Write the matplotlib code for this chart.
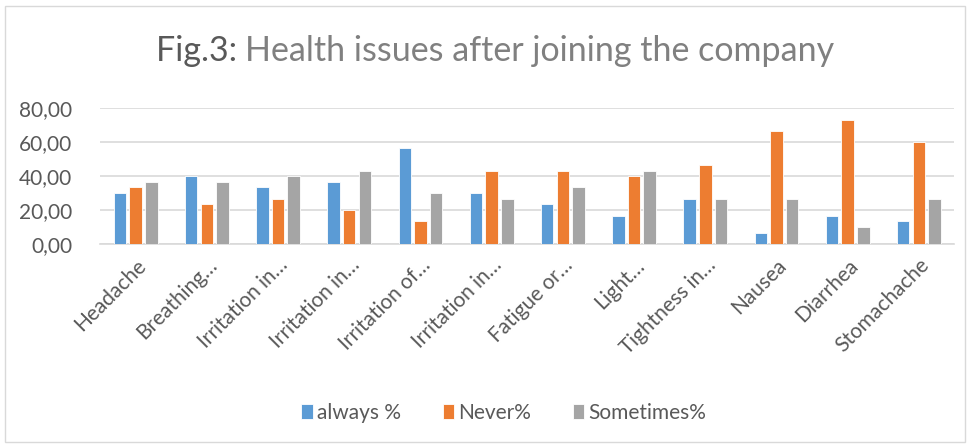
import matplotlib
matplotlib.use('Agg')
import matplotlib.pyplot as plt
import numpy as np
from matplotlib.patches import Rectangle

plt.rcParams['font.family'] = ['Lato', 'DejaVu Sans']

# data
categories = ['Headache', 'Breathing…', 'Irritation in…', 'Irritation in…',
              'Irritation of…', 'Irritation in…', 'Fatigue or…', 'Light…',
              'Tightness in…', 'Nausea', 'Diarrhea', 'Stomachache']
always = [30.0, 40.0, 33.3, 36.7, 56.7, 30.0, 23.3, 16.7, 26.7, 6.7, 16.7, 13.3]
never = [33.3, 23.3, 26.7, 20.0, 13.3, 43.3, 43.3, 40.0, 46.7, 66.7, 73.3, 60.0]
sometimes = [36.7, 36.7, 40.0, 43.3, 30.0, 26.7, 33.3, 43.3, 26.7, 26.7, 10.0, 26.7]
series_names = ['always %', 'Never%', 'Sometimes%']
colors = ['#5b9bd5', '#ed7d31', '#a5a5a5']

fig = plt.figure(figsize=(9.71, 4.47), dpi=100)
ax = fig.add_axes([0.103, 0.454, 0.880, 0.304])

x = np.arange(len(categories))
w = 0.175
step = 0.22
for i, (vals, name) in enumerate(zip([always, never, sometimes], series_names)):
    ax.bar(x + (i - 1) * step, vals, w, color=colors[i], label=name,
           edgecolor='white', linewidth=0.6, zorder=3)

ax.set_xlim(-0.5, len(categories) - 0.5)
ax.set_ylim(0, 80)
ax.set_yticks(np.arange(0, 81, 20))
ax.set_yticklabels(['%d,00' % v for v in range(0, 81, 20)])
ax.yaxis.grid(True, color='#d9d9d9', linewidth=1.2, zorder=0)
ax.tick_params(axis='y', length=0, labelsize=15, labelcolor='#595959', pad=20)
ax.tick_params(axis='x', length=0, labelsize=15, labelcolor='#595959', pad=8)
ax.set_xticks(x)
ax.set_xticklabels(categories, rotation=45, ha='right', rotation_mode='anchor')
for s in ['top', 'right', 'left']:
    ax.spines[s].set_visible(False)
ax.spines['bottom'].set_color('#d9d9d9')
ax.spines['bottom'].set_linewidth(1.2)

# title in two colours
fig.canvas.draw()
r = fig.canvas.get_renderer()
t1 = fig.text(0, 0.885, 'Fig.3: ', fontsize=24.5, color='#595959', va='center')
t2 = fig.text(0, 0.885, 'Health issues after joining the company', fontsize=24.5,
              color='#808080', va='center')
w1 = t1.get_window_extent(r).width
w2 = t2.get_window_extent(r).width
x0 = 495 - (w1 + w2) / 2
t1.set_x(x0 / 971)
t2.set_x((x0 + w1) / 971)

fig.legend(loc='center', bbox_to_anchor=(0.519, 0.077), ncol=3, frameon=False,
           fontsize=15, labelcolor='#595959', handlelength=0.55,
           handleheight=0.7, handletextpad=0.2, columnspacing=2.0)

fig.patches.append(Rectangle((5 / 971, 5 / 447), 960 / 971, 436 / 447,
                             transform=fig.transFigure, fill=False,
                             edgecolor='#d9d9d9', linewidth=1))

fig.savefig('out.png', dpi=100)
